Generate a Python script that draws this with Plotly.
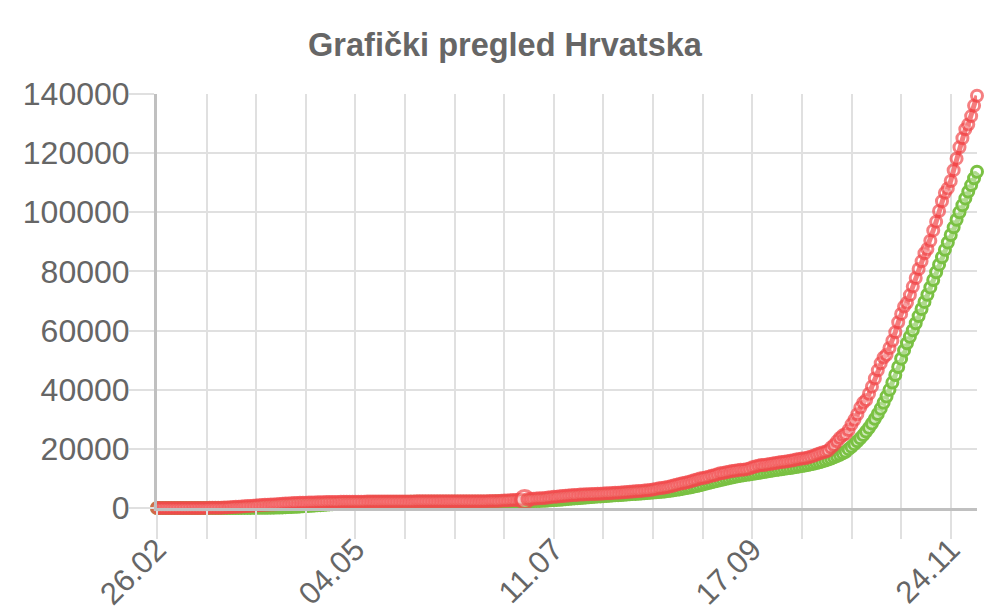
import pandas as pd
import plotly.graph_objects as go

# Cumulative confirmed cases (red), daily from 26.02.2020
cases_feb = [3, 3, 5, 7]
cases_mar = [7, 7, 9, 10, 10, 11, 12, 12, 12, 13, 14, 19, 32, 38, 49, 57, 65, 81, 105, 128,
             206, 254, 315, 382, 442, 495, 586, 657, 713, 790, 867]
cases_apr = [963, 1011, 1079, 1126, 1182, 1222, 1282, 1343, 1407, 1495, 1534, 1600, 1650, 1704, 1741,
             1791, 1814, 1832, 1871, 1881, 1908, 1950, 1981, 2016, 2030, 2039, 2047, 2062, 2076, 2085]
cases_may = [2088, 2096, 2101, 2112, 2119, 2125, 2146, 2176, 2187, 2196, 2205, 2209, 2213, 2221, 2222,
             2224, 2226, 2228, 2228, 2232, 2232, 2234, 2237, 2237, 2243, 2244, 2244, 2244, 2245, 2246, 2246]
cases_jun = [2246, 2247, 2247, 2247, 2247, 2247, 2247, 2247, 2249, 2249, 2249, 2252, 2258, 2269, 2280,
             2281, 2299, 2317, 2336, 2366, 2388, 2405, 2483, 2534, 2566, 2623, 2691, 2725, 2777, 2831]
cases_jul = [2912, 2965, 3060, 3151, 3220, 3272, 3325, 3416, 3532, 3672, 3775, 3831, 3953, 4039, 4122,
             4242, 4345, 4370, 4422, 4534, 4587, 4634, 4682, 4715, 4744, 4792, 4835, 4881, 4947, 5004, 5073]
cases_aug = [5138, 5191, 5224, 5290, 5376, 5466, 5543, 5623, 5713, 5776, 5880, 5966, 6076, 6284, 6464,
             6643, 6772, 6932, 7118, 7325, 7582, 7889, 8149, 8372, 8564, 8787, 9070, 9365, 9652, 9940, 10111]
cases_sep = [10316, 10609, 10868, 11094, 11428, 11739, 11840, 12071, 12285, 12479, 12626, 12789, 12917,
             12975, 13141, 13368, 13749, 14029, 14316, 14513, 14561, 14744, 14897, 15065, 15224, 15403,
             15572, 15631, 15797, 15993]
cases_oct = [16145, 16406, 16593, 16744, 16812, 17055, 17371, 17659, 18084, 18447, 18756, 18989, 19446,
             20440, 21318, 22534, 23665, 24567, 25063, 26400, 28287, 29850, 31717, 33959, 35599, 36535,
             38621, 41040, 43775, 46547, 48924]
cases_nov = [50881, 51813, 54087, 56567, 59415, 62793, 65633, 68102, 69387, 71990, 74868, 77785, 80825,
             83407, 86135, 87600, 90370, 93879, 96837, 100410, 103718, 106574, 108076, 110575, 114256,
             118135, 121997, 125059, 128062, 129693]
cases_dec = [132528, 136073, 139415]

# Cumulative recovered (green)
rec_feb = [0, 0, 0, 0]
rec_mar = [0, 0, 0, 0, 0, 0, 0, 0, 0, 0, 0, 0, 1, 1, 1, 1, 1, 1, 1, 5, 5, 5, 5, 16, 20, 28, 32, 32,
           36, 52, 60]
rec_apr = [67, 73, 87, 100, 125, 125, 152, 166, 200, 253, 300, 348, 386, 403, 529, 595, 632, 709, 778,
           844, 894, 970, 1047, 1135, 1213, 1267, 1348, 1401, 1459, 1523]
rec_may = [1553, 1592, 1618, 1655, 1681, 1733, 1804, 1856, 1891, 1925, 1935, 1953, 1971, 1983, 2006,
           2014, 2025, 2039, 2040, 2049, 2056, 2063, 2072, 2080, 2084, 2090, 2093, 2102, 2107, 2108, 2113]
rec_jun = [2120, 2124, 2129, 2131, 2134, 2135, 2136, 2137, 2138, 2139, 2141, 2142, 2143, 2144, 2144,
           2145, 2148, 2150, 2153, 2155, 2157, 2160, 2163, 2170, 2177, 2184, 2190, 2196, 2210, 2223]
rec_jul = [2242, 2262, 2284, 2312, 2340, 2370, 2410, 2457, 2519, 2597, 2665, 2740, 2812, 2893, 2985,
           3072, 3168, 3250, 3318, 3395, 3482, 3570, 3650, 3730, 3804, 3866, 3929, 4009, 4077, 4148, 4221]
rec_aug = [4286, 4350, 4420, 4490, 4560, 4630, 4700, 4770, 4840, 4910, 4985, 5060, 5135, 5210, 5290,
           5380, 5480, 5590, 5710, 5840, 5980, 6130, 6290, 6460, 6640, 6830, 7030, 7240, 7460, 7690, 7930]
rec_sep = [8170, 8420, 8670, 8920, 9170, 9410, 9650, 9880, 10100, 10310, 10510, 10700, 10880, 11050,
           11210, 11370, 11530, 11690, 11850, 12010, 12170, 12330, 12490, 12650, 12810, 12970, 13120,
           13270, 13410, 13550]
rec_oct = [13700, 13860, 14020, 14190, 14370, 14560, 14760, 14980, 15220, 15480, 15760, 16060, 16390,
           16750, 17140, 17560, 18010, 18500, 19030, 19900, 20700, 21600, 22550, 23550, 24650, 25850,
           27150, 28600, 30150, 31800, 33600]
rec_nov = [35600, 37700, 39950, 42400, 45000, 47700, 50500, 53300, 55700, 57900, 60100, 62500, 64900,
           67300, 69700, 72100, 74600, 77100, 79700, 82300, 84800, 87300, 89800, 92300, 94900, 97500,
           100000, 102400, 104700, 107000]
rec_dec = [109200, 111500, 113700]

cases = (cases_feb + cases_mar + cases_apr + cases_may + cases_jun + cases_jul + cases_aug
         + cases_sep + cases_oct + cases_nov + cases_dec)
recovered = (rec_feb + rec_mar + rec_apr + rec_may + rec_jun + rec_jul + rec_aug
             + rec_sep + rec_oct + rec_nov + rec_dec)

labels = [d.strftime("%d.%m") for d in pd.date_range("2020-02-26", periods=len(cases), freq="D")]
title_text = "Grafički pregled Hrvatska"
y_ticks = [0, 20000, 40000, 60000, 80000, 100000, 120000, 140000]

RED = "#f24a4c"
GREEN = "#7ac143"
GRID = "#e0e0e0"
AXIS = "#c0c0c0"
TXT = "#666666"
FONT = "Liberation Sans, Arial, sans-serif"

hover_idx = labels.index("01.07")
red_sizes = [11] * len(cases)
red_sizes[hover_idx] = 18

grid_vals = labels[::17]
grid_text = [lab if i % 4 == 0 else "" for i, lab in enumerate(grid_vals)]

fig = go.Figure()
fig.add_trace(go.Scatter(
    x=labels, y=recovered, mode="lines+markers", cliponaxis=False,
    line=dict(color=GREEN, width=5),
    marker=dict(symbol="circle", size=11, color="rgba(255,255,255,0.4)",
                line=dict(color=GREEN, width=3)),
    showlegend=False,
))
fig.add_trace(go.Scatter(
    x=labels, y=cases, mode="lines+markers", cliponaxis=False,
    line=dict(color=RED, width=5),
    marker=dict(symbol="circle", size=red_sizes, color="rgba(255,255,255,0.4)",
                line=dict(color=RED, width=3)),
    showlegend=False,
))

fig.update_layout(
    width=1000, height=615,
    paper_bgcolor="white", plot_bgcolor="white",
    margin=dict(l=149, r=31, t=86, b=115, autoexpand=False),
    title=dict(text="<b>" + title_text + "</b>", x=0.497, xanchor="center",
               y=0.94, yanchor="middle",
               font=dict(family=FONT, size=32.5, color=TXT)),
    font=dict(family=FONT, color=TXT),
    xaxis=dict(
        type="category", range=[0, len(cases) - 1], automargin=False,
        tickmode="array", tickvals=grid_vals, ticktext=grid_text,
        tickangle=-45, tickfont=dict(family=FONT, size=31, color=TXT),
        showgrid=True, gridcolor=GRID, gridwidth=2,
        ticks="outside", ticklen=8, tickcolor=GRID, tickwidth=2,
        minor=dict(tickmode="array", tickvals=grid_vals, ticks="outside", ticklen=28,
                   tickcolor=GRID, tickwidth=2, showgrid=False),
        showline=True, linecolor=AXIS, linewidth=3,
        zeroline=False, fixedrange=True,
    ),
    yaxis=dict(
        range=[0, 140000], tickmode="array", tickvals=y_ticks, automargin=False,
        tickformat="d", tickfont=dict(family=FONT, size=32, color=TXT),
        showgrid=True, gridcolor=GRID, gridwidth=2,
        ticks="outside", ticklen=18, tickcolor=GRID, tickwidth=2,
        minor=dict(tickmode="array", tickvals=y_ticks, ticks="outside", ticklen=25,
                   tickcolor=GRID, tickwidth=2, showgrid=False),
        showline=True, linecolor=AXIS, linewidth=3,
        zeroline=False, fixedrange=True,
    ),
)

fig.write_html("out.html")
